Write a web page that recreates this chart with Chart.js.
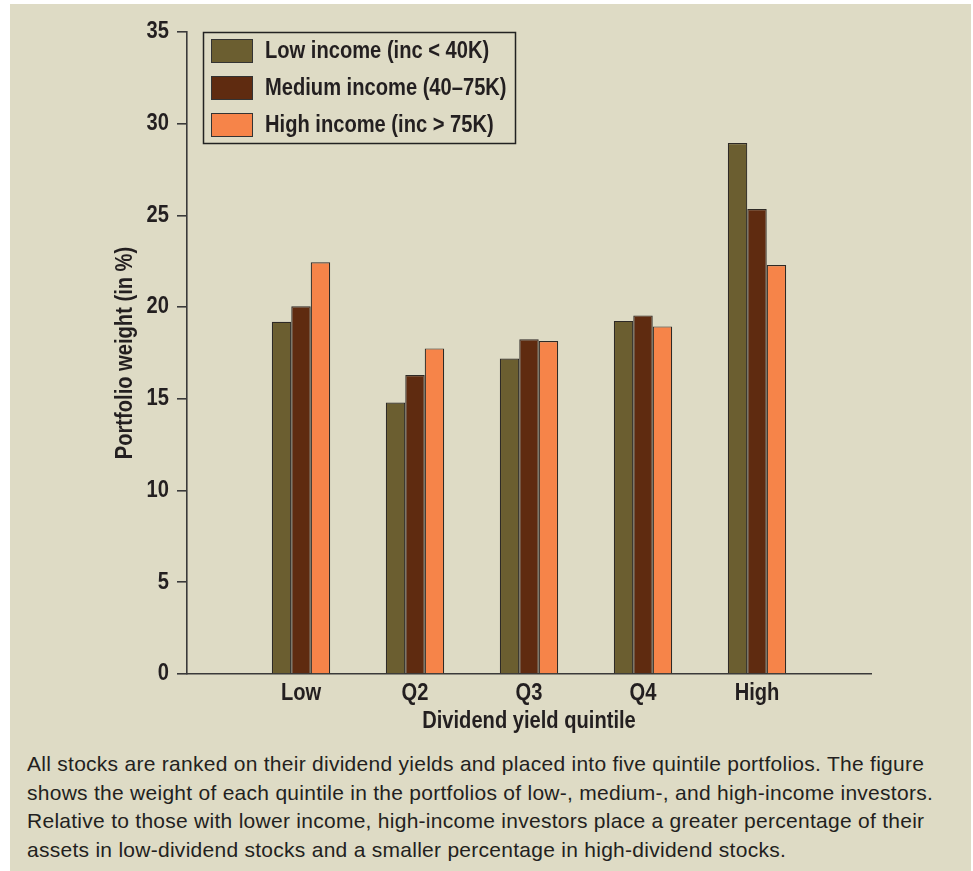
<!DOCTYPE html>
<html>
<head>
<meta charset="utf-8">
<script src="https://cdn.jsdelivr.net/npm/chart.js@4"></script>
<style>
  html, body { margin: 0; padding: 0; background: #ffffff; }
  #panel { position: absolute; left: 10px; top: 4px; width: 961px; height: 867px; background: #dedbc5; }
  #chart { position: absolute; left: 0; top: 0; }
  #caption { position: absolute; left: 27px; top: 750px; font-family: 'Liberation Sans', Arial, sans-serif; font-size: 21px; letter-spacing: 0.27px; line-height: 28.5px; color: #231f20; white-space: nowrap; }
</style>
</head>
<body>
<div id="panel"></div>
<canvas id="chart" width="973" height="745"></canvas>
<div id="caption">All stocks are ranked on their dividend yields and placed into five quintile portfolios. The figure<br>shows the weight of each quintile in the portfolios of low-, medium-, and high-income investors.<br>Relative to those with lower income, high-income investors place a greater percentage of their<br>assets in low-dividend stocks and a smaller percentage in high-dividend stocks.</div>
<script>
const categories = ['', 'Low', 'Q2', 'Q3', 'Q4', 'High', ''];
const lowIncome = [null, 19.2, 14.8, 17.2, 19.25, 28.95, null];
const mediumIncome = [null, 20.05, 16.3, 18.25, 19.55, 25.35, null];
const highIncome = [null, 22.45, 17.75, 18.15, 18.95, 22.3, null];
const seriesLabels = ['Low income (inc < 40K)', 'Medium income (40\u201375K)', 'High income (inc > 75K)'];
const seriesColors = ['#6b5e30', '#5f2b10', '#f68449'];
const yTicks = [0, 5, 10, 15, 20, 25, 30, 35];

const FONT = "'Liberation Sans', Arial, sans-serif";
const TEXT = '#231f20';
const AXIS = '#3a3a3a';
const SX = 0.875; // horizontal condensing of the bold chart lettering

const canvas = document.getElementById('chart');
const c2d = canvas.getContext('2d');
const origFill = c2d.fillText.bind(c2d);
c2d.fillText = function (t, x, y, mw) {
  c2d.save();
  c2d.translate(x, y);
  c2d.scale(SX, 1);
  if (mw !== undefined && mw !== null) origFill(t, 0, 0, mw / SX); else origFill(t, 0, 0);
  c2d.restore();
};

const boxLegend = {
  id: 'boxLegend',
  afterDraw(chart) {
    const ctx = chart.ctx;
    ctx.save();
    ctx.strokeStyle = '#222';
    ctx.lineWidth = 1.5;
    ctx.strokeRect(203.5, 32.5, 312, 111);
    chart.data.datasets.forEach((ds, i) => {
      const y = 39 + i * 37;
      ctx.fillStyle = ds.backgroundColor;
      ctx.fillRect(211, y, 42, 24);
      ctx.strokeStyle = '#333';
      ctx.lineWidth = 1;
      ctx.strokeRect(211.5, y + 0.5, 41, 23);
      ctx.fillStyle = TEXT;
      ctx.font = 'bold 23px ' + FONT;
      ctx.textBaseline = 'middle';
      ctx.textAlign = 'left';
      ctx.fillText(ds.label, 265, y + 13);
    });
    ctx.restore();
  }
};

const ds = [lowIncome, mediumIncome, highIncome].map((d, i) => ({
  label: seriesLabels[i],
  data: d,
  backgroundColor: seriesColors[i],
  borderColor: '#2e2a26',
  borderWidth: 1.2,
  categoryPercentage: 0.512,
  barPercentage: 1.0
}));

new Chart(canvas, {
  type: 'bar',
  data: { labels: categories, datasets: ds },
  plugins: [boxLegend],
  options: {
    responsive: false,
    animation: false,
    layout: { padding: { left: 110, right: 102, top: 32, bottom: 0 } },
    plugins: { legend: { display: false }, tooltip: { enabled: false } },
    scales: {
      x: {
        offset: false,
        afterFit(scale) { scale.height = 71; },
        grid: { display: true, drawOnChartArea: false, drawTicks: false, color: 'rgba(0,0,0,0)' },
        border: { display: true, color: AXIS, width: 1.6 },
        ticks: { color: TEXT, font: { family: FONT, size: 23, weight: 'bold' }, padding: 6, maxRotation: 0, autoSkip: false },
        title: { display: true, text: 'Dividend yield quintile', color: TEXT, font: { family: FONT, size: 23, weight: 'bold' }, padding: { top: 0, bottom: 10 } }
      },
      y: {
        min: 0, max: 35,
        afterFit(scale) { scale.width = 77; },
        afterBuildTicks(scale) { scale.ticks = yTicks.map(v => ({ value: v })); },
        grid: { display: true, drawOnChartArea: false, drawTicks: true, tickLength: 10, color: AXIS, lineWidth: 1.6 },
        border: { display: true, color: AXIS, width: 1.6 },
        ticks: { color: TEXT, font: { family: FONT, size: 23, weight: 'bold' }, padding: 8 },
        title: { display: true, text: 'Portfolio weight (in %)', color: TEXT, font: { family: FONT, size: 23, weight: 'bold' }, padding: { top: 2, bottom: 0 } }
      }
    }
  }
});
</script>
</body>
</html>
